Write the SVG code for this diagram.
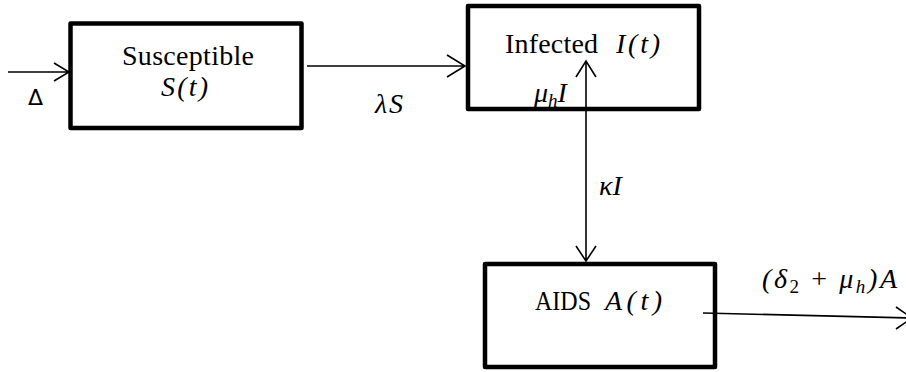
<svg xmlns="http://www.w3.org/2000/svg" width="906" height="372" viewBox="0 0 906 372">
<style>
.box{fill:#fff;stroke:#000;stroke-width:4.5;stroke-linejoin:round}
.ln{fill:none;stroke:#000;stroke-width:1.6}
.t{font-family:"Liberation Serif","Times New Roman",serif;font-size:28px;fill:#000}
.m{font-family:"Liberation Serif","Times New Roman",serif;font-style:italic;font-size:28px;fill:#000}
.u{font-family:"DejaVu Sans","Liberation Sans",sans-serif;font-size:22px;fill:#000}
.s{font-size:19px}
</style>
<rect width="906" height="372" fill="#fff"/>
<g id="susceptible">
  <rect class="box" x="70.5" y="23.5" width="231" height="104.5"/>
  <text class="t" x="122" y="65" textLength="132">Susceptible</text>
  <text class="m" x="161" y="96" textLength="47">S(t)</text>
</g>
<g id="infected">
  <rect class="box" x="468" y="6" width="231" height="103"/>
  <text class="t" x="505" y="53" textLength="93">Infected</text>
  <text class="m" x="616" y="53" textLength="44">I(t)</text>
</g>
<g id="aids">
  <rect class="box" x="485" y="264" width="230" height="103"/>
  <text class="t" x="535" y="310" font-size="25" textLength="56" lengthAdjust="spacingAndGlyphs">AIDS</text>
  <text class="m" x="605" y="310" textLength="57">A(t)</text>
</g>
<g id="connectors">
  <path class="ln" d="M8,72 H69 M54,63 L69,72 L54,81"/>
  <path class="ln" d="M307,66 H465 M447,55 L465,66 L447,77"/>
  <path class="ln" d="M586,61 V261 M576,77 L586,61 L596,77 M576,246 L586,261 L596,246"/>
  <path class="ln" d="M703,313 L912,318 M896,307 L912,318 L896,329"/>
  <text class="u" x="28" y="105">Δ</text>
  <text class="m" x="375" y="113" textLength="28">λS</text>
  <text class="m" x="599" y="195">κI</text>
  <text class="m" x="534" y="102" font-size="30">μ<tspan class="s" dy="5">h</tspan><tspan dy="-5">I</tspan></text>
  <text class="m" x="762" y="288" textLength="135">(δ<tspan class="s" font-style="normal" dy="5">2</tspan><tspan dy="-5" font-style="normal"> + </tspan>μ<tspan class="s" dy="5">h</tspan><tspan dy="-5">)A</tspan></text>
</g>
</svg>
